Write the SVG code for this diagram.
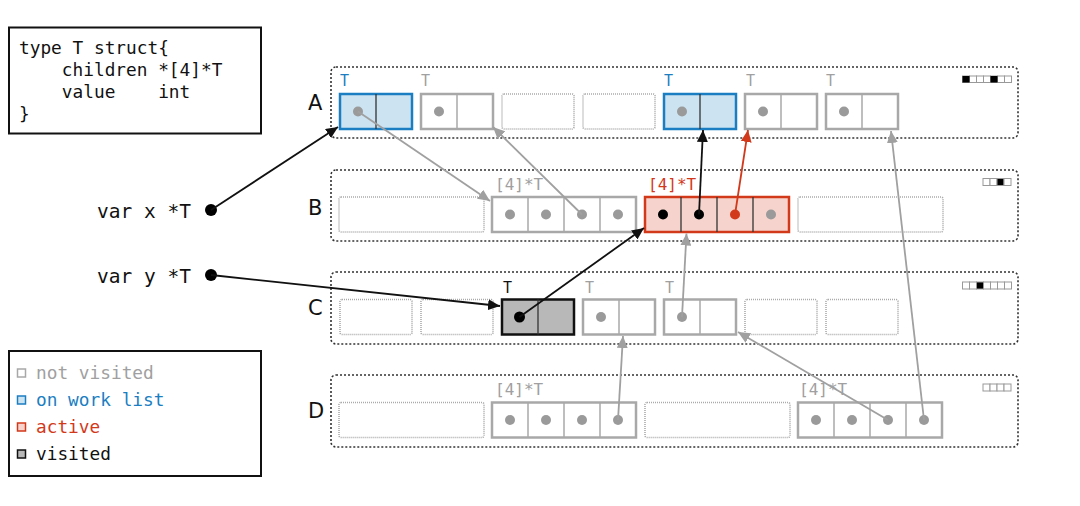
<svg xmlns="http://www.w3.org/2000/svg" width="1080" height="506" viewBox="0 0 1080 506">
<style>
.mono{font-family:"DejaVu Sans Mono","Liberation Mono",monospace}
.code{font-size:17.8px;fill:#111}
.lbl{font-size:15px}
.row{font-size:21px;fill:#111;font-family:"DejaVu Sans",sans-serif}
.span{fill:none;stroke:#333;stroke-width:1.6;stroke-dasharray:2 2}
.empty{fill:none;stroke:#aaa;stroke-width:1.6;stroke-dasharray:1 1}
.g{fill:#fff;stroke:#a8a8a8;stroke-width:2.5}
.gd{stroke:#a8a8a8;stroke-width:1.5}
.b{fill:#cce3f1;stroke:#1b7ec2;stroke-width:2.5}
.r{fill:#f6d4cd;stroke:#d2391b;stroke-width:2.5}
.v{fill:#b8b8b8;stroke:#111;stroke-width:2.5}
.dd{stroke:#333;stroke-width:1.3}
.dg{fill:#9a9a9a}
.dk{fill:#000}
.dr{fill:#d2391b}
.tb{fill:#1b7ec2}
.tg{fill:#a0a0a0}
.tr{fill:#d2391b}
.tk{fill:#111}
.ind{fill:#fff;stroke:#999;stroke-width:1}
.indk{fill:#000;stroke:#999;stroke-width:1}
.ck{stroke:#111;stroke-width:1.8;fill:none}
.cg{stroke:#a0a0a0;stroke-width:1.8;fill:none}
.cr{stroke:#d2391b;stroke-width:1.8;fill:none}
</style>
<defs>
<marker id="ak" markerUnits="userSpaceOnUse" markerWidth="13" markerHeight="11" refX="12" refY="5.5" orient="auto"><path d="M0,0 L12,5.5 L0,11 Z" fill="#111"/></marker>
<marker id="ag" markerUnits="userSpaceOnUse" markerWidth="13" markerHeight="11" refX="12" refY="5.5" orient="auto"><path d="M0,0 L12,5.5 L0,11 Z" fill="#a0a0a0"/></marker>
<marker id="ar" markerUnits="userSpaceOnUse" markerWidth="13" markerHeight="11" refX="12" refY="5.5" orient="auto"><path d="M0,0 L12,5.5 L0,11 Z" fill="#d2391b"/></marker>
</defs>
<rect width="1080" height="506" fill="#fff"/>

<g id="code">
<rect x="9" y="27.5" width="252" height="106" fill="#fff" stroke="#111" stroke-width="2"/>
<text class="mono code" xml:space="preserve"><tspan x="19" y="54">type T struct{</tspan><tspan x="19" y="76">    children *[4]*T</tspan><tspan x="19" y="98">    value    int</tspan><tspan x="19" y="120">}</tspan></text>
</g>

<g id="legend">
<rect x="9" y="351" width="252" height="125" fill="#fff" stroke="#111" stroke-width="2"/>
<rect x="17.5" y="369" width="8" height="8" fill="#fff" stroke="#a8a8a8" stroke-width="1.5"/>
<text class="mono tg" x="36" y="379" font-size="17.8">not visited</text>
<rect x="17.5" y="396" width="8" height="8" fill="#cce3f1" stroke="#1b7ec2" stroke-width="1.5"/>
<text class="mono tb" x="36" y="406" font-size="17.8">on work list</text>
<rect x="17.5" y="423" width="8" height="8" fill="#f6d4cd" stroke="#d2391b" stroke-width="1.5"/>
<text class="mono tr" x="36" y="433" font-size="17.8">active</text>
<rect x="17.5" y="450" width="8" height="8" fill="#b8b8b8" stroke="#111" stroke-width="1.5"/>
<text class="mono tk" x="36" y="460" font-size="17.8">visited</text>
</g>

<g id="varx">
<text class="mono" x="97" y="218" font-size="19.5" fill="#111">var x *T</text>
<circle cx="211" cy="210" r="6" fill="#000"/>
</g>
<g id="vary">
<text class="mono" x="97" y="283" font-size="19.5" fill="#111">var y *T</text>
<circle cx="211" cy="275" r="6" fill="#000"/>
</g>

<g id="spanA">
<text class="row" x="308" y="110">A</text>
<rect class="span" x="331" y="67" width="687" height="71" rx="5"/>
<rect class="ind" x="962.5" y="76" width="7" height="6.5"/><rect class="ind" x="969.5" y="76" width="7" height="6.5"/><rect class="ind" x="976.5" y="76" width="7" height="6.5"/><rect class="ind" x="983.5" y="76" width="7" height="6.5"/><rect class="ind" x="990.5" y="76" width="7" height="6.5"/><rect class="ind" x="997.5" y="76" width="7" height="6.5"/><rect class="ind" x="1004.5" y="76" width="7" height="6.5"/>
<rect x="962.5" y="76" width="7" height="6.5" fill="#000"/><rect x="990.5" y="76" width="7" height="6.5" fill="#000"/>
</g>
<g id="A0">
<text class="mono lbl tb" x="340" y="86">T</text>
<rect class="b" x="340" y="94" width="72" height="35"/><line class="dd" x1="376" y1="94" x2="376" y2="129"/>
<circle class="dg" cx="358" cy="111.5" r="5"/>
</g>
<g id="A1">
<text class="mono lbl tg" x="421" y="86">T</text>
<rect class="g" x="421" y="94" width="72" height="35"/><line class="gd" x1="457" y1="94" x2="457" y2="129"/>
<circle class="dg" cx="439" cy="111.5" r="5"/>
</g>
<g id="A2"><rect class="empty" x="502" y="94" width="72" height="35" rx="2"/></g>
<g id="A3"><rect class="empty" x="583" y="94" width="72" height="35" rx="2"/></g>
<g id="A4">
<text class="mono lbl tb" x="664" y="86">T</text>
<rect class="b" x="664" y="94" width="72" height="35"/><line class="dd" x1="700" y1="94" x2="700" y2="129"/>
<circle class="dg" cx="682" cy="111.5" r="5"/>
</g>
<g id="A5">
<text class="mono lbl tg" x="746" y="86">T</text>
<rect class="g" x="745" y="94" width="72" height="35"/><line class="gd" x1="781" y1="94" x2="781" y2="129"/>
<circle class="dg" cx="763" cy="111.5" r="5"/>
</g>
<g id="A6">
<text class="mono lbl tg" x="826" y="86">T</text>
<rect class="g" x="826" y="94" width="72" height="35"/><line class="gd" x1="862" y1="94" x2="862" y2="129"/>
<circle class="dg" cx="844" cy="111.5" r="5"/>
</g>

<g id="spanB">
<text class="row" x="308" y="215">B</text>
<rect class="span" x="331" y="170" width="687" height="71" rx="5"/>
<rect class="ind" x="983" y="178.5" width="7" height="7"/><rect class="ind" x="990" y="178.5" width="7" height="7"/><rect class="indk" x="997" y="178.5" width="7" height="7"/><rect class="ind" x="1004" y="178.5" width="7" height="7"/>
</g>
<g id="B0"><rect class="empty" x="339" y="197" width="145" height="35" rx="2"/></g>
<g id="B1">
<text class="mono tg" x="495" y="190" font-size="16">[4]*T</text>
<rect class="g" x="492" y="197" width="144" height="35"/>
<line class="gd" x1="528" y1="197" x2="528" y2="232"/><line class="gd" x1="564" y1="197" x2="564" y2="232"/><line class="gd" x1="600" y1="197" x2="600" y2="232"/>
<circle class="dg" cx="510" cy="214.5" r="5"/><circle class="dg" cx="546" cy="214.5" r="5"/><circle class="dg" cx="582" cy="214.5" r="5"/><circle class="dg" cx="618" cy="214.5" r="5"/>
</g>
<g id="B2">
<text class="mono tr" x="648" y="190" font-size="16">[4]*T</text>
<rect class="r" x="645" y="197" width="144" height="35"/>
<line class="dd" x1="681" y1="197" x2="681" y2="232"/><line class="dd" x1="717" y1="197" x2="717" y2="232"/><line class="dd" x1="753" y1="197" x2="753" y2="232"/>
<circle class="dk" cx="663" cy="214.5" r="5"/><circle class="dk" cx="699" cy="214.5" r="5"/><circle class="dr" cx="735" cy="214.5" r="5"/><circle class="dg" cx="771" cy="214.5" r="5"/>
</g>
<g id="B3"><rect class="empty" x="798" y="197" width="145" height="35" rx="2"/></g>

<g id="spanC">
<text class="row" x="308" y="315">C</text>
<rect class="span" x="331" y="272" width="687" height="72" rx="5"/>
<rect class="ind" x="962.5" y="282" width="7" height="7"/><rect class="ind" x="969.5" y="282" width="7" height="7"/><rect class="indk" x="976.5" y="282" width="7" height="7"/><rect class="ind" x="983.5" y="282" width="7" height="7"/><rect class="ind" x="990.5" y="282" width="7" height="7"/><rect class="ind" x="997.5" y="282" width="7" height="7"/><rect class="ind" x="1004.5" y="282" width="7" height="7"/>
</g>
<g id="C0"><rect class="empty" x="340" y="299.5" width="72" height="35" rx="2"/></g>
<g id="C1"><rect class="empty" x="421" y="299.5" width="72" height="35" rx="2"/></g>
<g id="C2">
<text class="mono lbl tk" x="503" y="293">T</text>
<rect class="v" x="502" y="299.5" width="72" height="35"/><line class="dd" x1="538" y1="299.5" x2="538" y2="334.5"/>
<circle class="dk" cx="519.5" cy="317" r="5.5"/>
</g>
<g id="C3">
<text class="mono lbl tg" x="585" y="293">T</text>
<rect class="g" x="583" y="299.5" width="72" height="35"/><line class="gd" x1="619" y1="299.5" x2="619" y2="334.5"/>
<circle class="dg" cx="601" cy="317" r="5"/>
</g>
<g id="C4">
<text class="mono lbl tg" x="665" y="293">T</text>
<rect class="g" x="664" y="299.5" width="72" height="35"/><line class="gd" x1="700" y1="299.5" x2="700" y2="334.5"/>
<circle class="dg" cx="682" cy="317" r="5"/>
</g>
<g id="C5"><rect class="empty" x="745" y="299.5" width="72" height="35" rx="2"/></g>
<g id="C6"><rect class="empty" x="826" y="299.5" width="72" height="35" rx="2"/></g>

<g id="spanD">
<text class="row" x="308" y="418">D</text>
<rect class="span" x="331" y="375" width="687" height="72" rx="5"/>
<rect class="ind" x="983" y="384" width="7" height="7"/><rect class="ind" x="990" y="384" width="7" height="7"/><rect class="ind" x="997" y="384" width="7" height="7"/><rect class="ind" x="1004" y="384" width="7" height="7"/>
</g>
<g id="D0"><rect class="empty" x="339" y="402.5" width="145" height="35" rx="2"/></g>
<g id="D1">
<text class="mono tg" x="495" y="395" font-size="16">[4]*T</text>
<rect class="g" x="492" y="402.5" width="144" height="35"/>
<line class="gd" x1="528" y1="402.5" x2="528" y2="437.5"/><line class="gd" x1="564" y1="402.5" x2="564" y2="437.5"/><line class="gd" x1="600" y1="402.5" x2="600" y2="437.5"/>
<circle class="dg" cx="510" cy="420" r="5"/><circle class="dg" cx="546" cy="420" r="5"/><circle class="dg" cx="582" cy="420" r="5"/><circle class="dg" cx="618" cy="420" r="5"/>
</g>
<g id="D2"><rect class="empty" x="645" y="402.5" width="145" height="35" rx="2"/></g>
<g id="D3">
<text class="mono tg" x="799" y="395" font-size="16">[4]*T</text>
<rect class="g" x="798" y="402.5" width="144" height="35"/>
<line class="gd" x1="834" y1="402.5" x2="834" y2="437.5"/><line class="gd" x1="870" y1="402.5" x2="870" y2="437.5"/><line class="gd" x1="906" y1="402.5" x2="906" y2="437.5"/>
<circle class="dg" cx="816" cy="420" r="5"/><circle class="dg" cx="852" cy="420" r="5"/><circle class="dg" cx="888" cy="420" r="5"/><circle class="dg" cx="924" cy="420" r="5"/>
</g>

<g id="connectors">
<path class="cg" d="M358,111.5 L490,201" marker-end="url(#ag)"/>
<path class="cg" d="M582,214.5 L493,127" marker-end="url(#ag)"/>
<path class="cg" d="M682,317 L686.5,233.5" marker-end="url(#ag)"/>
<path class="cg" d="M618,420 L623,336" marker-end="url(#ag)"/>
<path class="cg" d="M888,420 L738,332" marker-end="url(#ag)"/>
<path class="cg" d="M924,420 L891,131" marker-end="url(#ag)"/>
<path class="ck" d="M211,210 L338,127" marker-end="url(#ak)"/>
<path class="ck" d="M211,275 L500,306" marker-end="url(#ak)"/>
<path class="ck" d="M519.5,317 L644,228" marker-end="url(#ak)"/>
<path class="ck" d="M699,214.5 L703,130" marker-end="url(#ak)"/>
<path class="cr" d="M735,214.5 L748,130" marker-end="url(#ar)"/>
</g>
</svg>
